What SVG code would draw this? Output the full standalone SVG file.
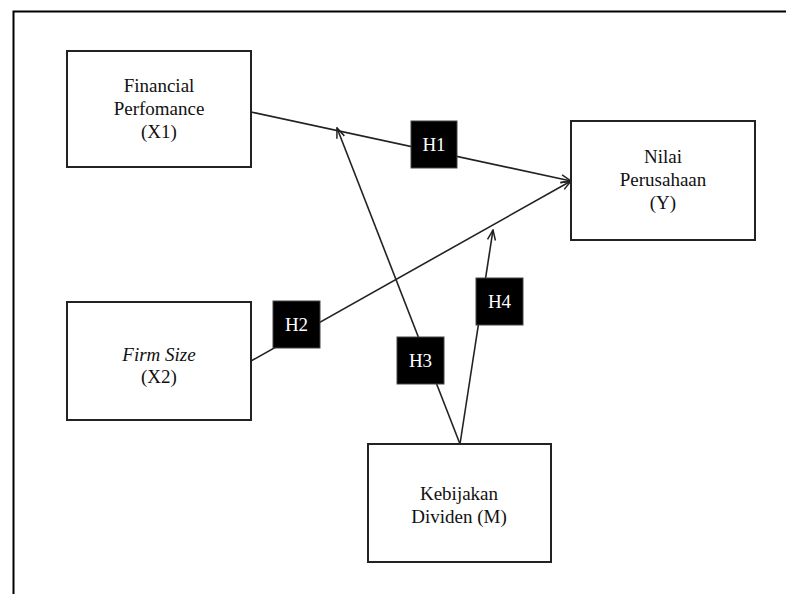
<svg xmlns="http://www.w3.org/2000/svg" width="786" height="594" viewBox="0 0 786 594">
<style>
.box{fill:#fff;stroke:#222;stroke-width:2}
.t{font-family:"Liberation Serif","Times New Roman",serif;font-size:19px;fill:#111;text-anchor:middle}
.hb{fill:#000;stroke:#444;stroke-width:1}
.ht{font-family:"Liberation Serif","Times New Roman",serif;font-size:19px;fill:#fff;text-anchor:middle}
.ln{stroke:#222;stroke-width:1.6;fill:none}
</style>
<defs>
<marker id="arr" viewBox="0 0 12 10" refX="11" refY="5" markerWidth="12" markerHeight="10" markerUnits="userSpaceOnUse" orient="auto">
<path d="M1,1 L11,5 L1,9" fill="none" stroke="#222" stroke-width="1.5"/>
</marker>
</defs>
<rect width="786" height="594" fill="#fff"/>
<path d="M13.5,594 V11.5 H786" fill="none" stroke="#000" stroke-width="2"/>
<g id="connectors">
<line class="ln" x1="251" y1="112" x2="571" y2="181" marker-end="url(#arr)"/>
<line class="ln" x1="251" y1="361" x2="571" y2="181" marker-end="url(#arr)"/>
<line class="ln" x1="460" y1="444" x2="337" y2="128" marker-end="url(#arr)"/>
<line class="ln" x1="460" y1="444" x2="493" y2="230" marker-end="url(#arr)"/>
</g>
<g id="financial">
<rect class="box" x="67" y="51" width="184" height="116"/>
<text class="t" x="159" y="92">Financial</text>
<text class="t" x="159" y="115">Perfomance</text>
<text class="t" x="159" y="138">(X1)</text>
</g>
<g id="nilai">
<rect class="box" x="571" y="121" width="184" height="119"/>
<text class="t" x="663" y="163">Nilai</text>
<text class="t" x="663" y="186">Perusahaan</text>
<text class="t" x="663" y="209">(Y)</text>
</g>
<g id="firmsize">
<rect class="box" x="67" y="302" width="184" height="118"/>
<text class="t" x="159" y="361" font-style="italic">Firm Size</text>
<text class="t" x="159" y="383">(X2)</text>
</g>
<g id="kebijakan">
<rect class="box" x="368" y="444" width="183" height="118"/>
<text class="t" x="459" y="500">Kebijakan</text>
<text class="t" x="459" y="523">Dividen (M)</text>
</g>
<g id="h1">
<rect class="hb" x="411" y="121" width="46" height="47"/>
<text class="ht" x="434" y="151">H1</text>
</g>
<g id="h2">
<rect class="hb" x="273" y="301" width="47" height="47"/>
<text class="ht" x="296.5" y="331">H2</text>
</g>
<g id="h3">
<rect class="hb" x="397" y="337" width="47" height="47"/>
<text class="ht" x="420.5" y="367">H3</text>
</g>
<g id="h4">
<rect class="hb" x="476" y="278" width="47" height="47"/>
<text class="ht" x="499.5" y="308">H4</text>
</g>
</svg>
